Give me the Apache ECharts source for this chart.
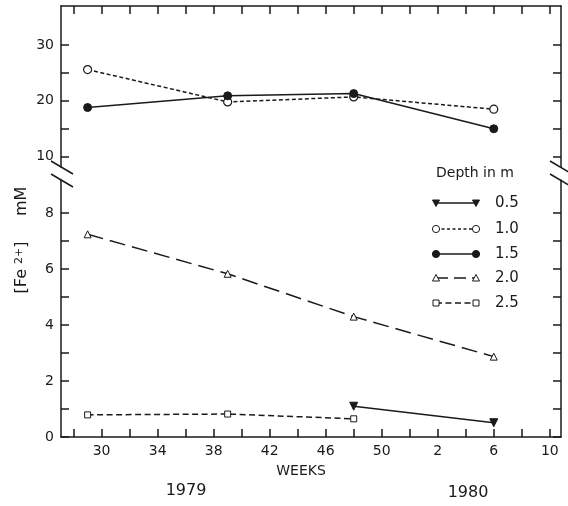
<!DOCTYPE html>
<html><head><meta charset="utf-8">
<script src="https://cdn.jsdelivr.net/npm/echarts@6/dist/echarts.min.js"></script>
<style>html,body{margin:0;padding:0;background:#fff}#c{width:568px;height:506px}</style>
</head><body><div id="c"></div>
<script>
// Weeks (continuous numbering; 54 = week 2 of 1980, 58 = week 6, 62 = week 10)
const weeks = [29, 39, 48, 58];
const depthNames = ['0.5', '1.0', '1.5', '2.0', '2.5'];
const d05 = [null, null, 1.1, 0.51];
const d10 = [25.6, 19.8, 20.7, 18.5];
const d15 = [18.8, 20.9, 21.3, 15.0];
const d20 = [7.24, 5.83, 4.30, 2.87];
const d25 = [0.79, 0.82, 0.65, null];
const xTickWeeks = [28, 30, 32, 34, 36, 38, 40, 42, 44, 46, 48, 50, 52, 54, 56, 58, 60, 62];
const xLabelWeeks = [30, 34, 38, 42, 46, 50, 54, 58, 62];
const xLabelTexts = ['30', '34', '38', '42', '46', '50', '2', '6', '10'];
const yUpperTicks = [10, 15, 20, 25, 30];
const yUpperLabels = [10, 20, 30];
const yLowerTicks = [0, 1, 2, 3, 4, 5, 6, 7, 8];
const yLowerLabels = [0, 2, 4, 6, 8];
const years = ['1979', '1980'];
const legendTitle = 'Depth in m';
const xName = 'WEEKS';

const INK = '#1a1a1a';
const FONT = 'DejaVu Sans';
const LW = 1.5;
const pair = arr => weeks.map((w, i) => [w, arr[i]]).filter(p => p[1] !== null);

const xLabelMap = {};
xLabelWeeks.forEach((w, i) => { xLabelMap[w] = xLabelTexts[i]; });

function yAxisDef(grid, pos, min, max, ticks, labels) {
  return {
    type: 'value', gridIndex: grid, position: pos, min: min, max: max,
    axisLine: { show: true, onZero: false, lineStyle: { color: INK, width: LW } },
    axisTick: { show: true, inside: true, length: 8, customValues: ticks, lineStyle: { color: INK, width: LW } },
    axisLabel: labels ? { show: true, customValues: labels, color: INK, fontFamily: FONT, fontSize: 14, margin: 7 } : { show: false },
    splitLine: { show: false }
  };
}

const series = [
  { name: depthNames[0], data: pair(d05), xAxisIndex: 1, yAxisIndex: 2, symbol: 'triangle', symbolRotate: 180, symbolSize: 8,
    lineStyle: { color: INK, width: LW }, itemStyle: { color: INK, borderColor: INK } },
  { name: depthNames[1], data: pair(d10), xAxisIndex: 0, yAxisIndex: 0, symbol: 'circle', symbolSize: 8,
    lineStyle: { color: INK, width: LW, type: [4, 2.5] }, itemStyle: { color: '#fff', borderColor: INK, borderWidth: 1.2 } },
  { name: depthNames[2], data: pair(d15), xAxisIndex: 0, yAxisIndex: 0, symbol: 'circle', symbolSize: 8,
    lineStyle: { color: INK, width: LW }, itemStyle: { color: INK, borderColor: INK } },
  { name: depthNames[3], data: pair(d20), xAxisIndex: 1, yAxisIndex: 2, symbol: 'triangle', symbolSize: 7,
    lineStyle: { color: INK, width: LW, type: [16, 7] }, itemStyle: { color: '#fff', borderColor: INK, borderWidth: 1 } },
  { name: depthNames[4], data: pair(d25), xAxisIndex: 1, yAxisIndex: 2, symbol: 'rect', symbolSize: 6,
    lineStyle: { color: INK, width: LW, type: [6, 3.5] }, itemStyle: { color: '#fff', borderColor: INK, borderWidth: 1 } }
].map(s => Object.assign({ type: 'line', showSymbol: true, connectNulls: false, z: 3 }, s));

// Legend drawn as decoration (line with a marker at each end, as in the original)
const legendRows = [
  { y: 203, dash: null, mark: 'down', fill: INK },
  { y: 229, dash: [3, 2.5], mark: 'circle', fill: '#fff' },
  { y: 254, dash: null, mark: 'circle', fill: INK },
  { y: 278, dash: [12, 6], mark: 'up', fill: '#fff' },
  { y: 303, dash: [6, 3.5], mark: 'rect', fill: '#fff' }
];
const lx1 = 436, lx2 = 476, ltx = 495;
function marker(kind, cx, cy, fill) {
  const st = { fill: fill, stroke: INK, lineWidth: 1 };
  if (kind === 'circle') return { type: 'circle', shape: { cx: cx, cy: cy, r: 3.6 }, style: st, z: 10 };
  if (kind === 'rect') return { type: 'rect', shape: { x: cx - 3, y: cy - 3, width: 6, height: 6 }, style: st, z: 10 };
  if (kind === 'up') return { type: 'polygon', shape: { points: [[cx, cy - 3.5], [cx + 3.5, cy + 3], [cx - 3.5, cy + 3]] }, style: st, z: 10 };
  return { type: 'polygon', shape: { points: [[cx - 3.5, cy - 3], [cx + 3.5, cy - 3], [cx, cy + 3.5]] }, style: st, z: 10 };
}
const graphics = [];
graphics.push({ type: 'text', x: 475, y: 173, style: { text: legendTitle, font: '14px ' + FONT, fill: INK, align: 'center', verticalAlign: 'middle' } });
legendRows.forEach((r, i) => {
  graphics.push({ type: 'line', shape: { x1: lx1, y1: r.y, x2: lx2, y2: r.y }, style: { stroke: INK, lineWidth: 1.3, lineDash: r.dash }, z: 9 });
  graphics.push(marker(r.mark, lx1, r.y, r.fill));
  graphics.push(marker(r.mark, lx2, r.y, r.fill));
  graphics.push({ type: 'text', x: ltx, y: r.y, style: { text: depthNames[i], font: '15px ' + FONT, fill: INK, align: 'left', verticalAlign: 'middle' } });
});
// axis break marks
[[51, 161, 73, 174], [51, 174, 73, 187], [550, 161, 572, 174], [550, 174, 572, 187]].forEach(s => {
  graphics.push({ type: 'line', shape: { x1: s[0], y1: s[1], x2: s[2], y2: s[3] }, style: { stroke: INK, lineWidth: LW }, z: 10 });
});
// axis titles and years
graphics.push({ type: 'text', x: 301, y: 471, style: { text: xName, font: '14px ' + FONT, fill: INK, align: 'center', verticalAlign: 'middle' } });
graphics.push({ type: 'text', x: 186, y: 491, style: { text: years[0], font: '16px ' + FONT, fill: INK, align: 'center', verticalAlign: 'middle' } });
graphics.push({ type: 'text', x: 468, y: 493, style: { text: years[1], font: '16px ' + FONT, fill: INK, align: 'center', verticalAlign: 'middle' } });
graphics.push({ type: 'text', x: 22, y: 240, rotation: Math.PI / 2,
  style: { text: '[Fe {s|2+}]     mM', font: '16px ' + FONT, fill: INK, align: 'center', verticalAlign: 'middle',
    rich: { s: { fontSize: 11, fontFamily: FONT, fill: INK, padding: [0, 0, 6, 0] } } } });

const chart = echarts.init(document.getElementById('c'), null, { renderer: 'canvas' });
chart.setOption({
  animation: false,
  backgroundColor: '#fff',
  grid: [
    { left: 61, right: 7, top: 6, height: 161, containLabel: false },
    { left: 61, right: 7, top: 180, height: 257, containLabel: false }
  ],
  xAxis: [
    { type: 'value', gridIndex: 0, position: 'top', min: 27.1, max: 62.8,
      axisLine: { show: true, onZero: false, lineStyle: { color: INK, width: LW } },
      axisTick: { show: true, inside: true, length: 8, customValues: xTickWeeks, lineStyle: { color: INK, width: LW } },
      axisLabel: { show: false }, splitLine: { show: false } },
    { type: 'value', gridIndex: 1, position: 'bottom', min: 27.1, max: 62.8,
      axisLine: { show: true, onZero: false, lineStyle: { color: INK, width: LW } },
      axisTick: { show: true, inside: true, length: 8, customValues: xTickWeeks, lineStyle: { color: INK, width: LW } },
      axisLabel: { show: true, customValues: xLabelWeeks, formatter: v => xLabelMap[v] !== undefined ? xLabelMap[v] : '', color: INK, fontFamily: FONT, fontSize: 14, margin: 7 },
      splitLine: { show: false } }
  ],
  yAxis: [
    yAxisDef(0, 'left', 8.156, 36.98, yUpperTicks, yUpperLabels),
    yAxisDef(0, 'right', 8.156, 36.98, yUpperTicks, null),
    yAxisDef(1, 'left', 0, 9.18, yLowerTicks, yLowerLabels),
    yAxisDef(1, 'right', 0, 9.18, yLowerTicks, null)
  ],
  series: series,
  graphic: graphics
});
</script>
</body></html>
